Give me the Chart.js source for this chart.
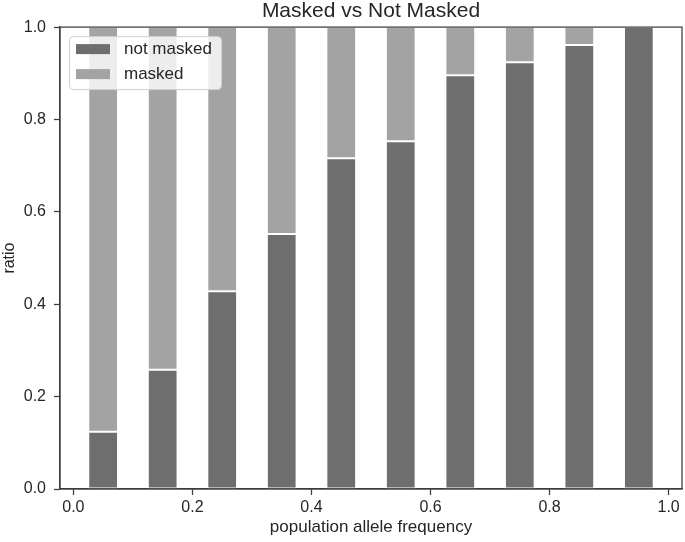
<!DOCTYPE html>
<html>
<head>
<meta charset="utf-8">
<script src="https://cdn.jsdelivr.net/npm/chart.js@4.4.1/dist/chart.umd.min.js"></script>
<style>
  html, body { margin: 0; padding: 0; background: #fff; }
  #wrap { width: 685px; height: 542px; }
</style>
</head>
<body>
<div id="wrap"><canvas id="grafica"></canvas></div>
<script>
// datos
const frecuencias = [0.05, 0.15, 0.25, 0.35, 0.45, 0.55, 0.65, 0.75, 0.85, 0.95];
const noEnmascarado = [0.124, 0.258, 0.428, 0.552, 0.716, 0.753, 0.896, 0.924, 0.961, 1.0];
const enmascarado = [0.876, 0.742, 0.572, 0.448, 0.284, 0.247, 0.104, 0.076, 0.039, 0.0];
const ticksX = [0.0, 0.2, 0.4, 0.6, 0.8, 1.0];
const ticksY = [0.0, 0.2, 0.4, 0.6, 0.8, 1.0];

const FUENTE = "'Liberation Sans', Arial, sans-serif";
const COLOR_TEXTO = "#262626";
const COLOR_EJE = "#3c3c3c";

// marco completo del area de la grafica
const marco = {
    id: "marco",
    afterDatasetsDraw(chart) {
        const { ctx, chartArea: a } = chart;
        ctx.save();
        ctx.strokeStyle = COLOR_EJE;
        ctx.lineWidth = 1.25;
        ctx.strokeRect(a.left, a.top, a.right - a.left, a.bottom - a.top);
        ctx.restore();
    }
};

// leyenda dentro del area, arriba a la izquierda
const leyenda = {
    id: "leyenda",
    afterDraw(chart) {
        const { ctx, chartArea: a } = chart;
        const x = a.left + 9, y = a.top + 9, w = 152, h = 53;
        ctx.save();
        ctx.beginPath();
        ctx.roundRect(x + 0.5, y + 0.5, w, h, 4);
        ctx.fillStyle = "rgba(255,255,255,0.8)";
        ctx.fill();
        ctx.strokeStyle = "#d0d0d0";
        ctx.lineWidth = 1;
        ctx.stroke();
        chart.data.datasets.forEach((ds, i) => {
            const fy = y + 8 + i * 25;
            ctx.fillStyle = ds.backgroundColor;
            ctx.fillRect(x + 7, fy, 34, 10);
            ctx.fillStyle = COLOR_TEXTO;
            ctx.font = "17px " + FUENTE;
            ctx.textBaseline = "middle";
            ctx.fillText(ds.label, x + 55, fy + 5.5);
        });
        ctx.restore();
    }
};

new Chart(document.getElementById("grafica"), {
    type: "bar",
    data: {
        datasets: [
            {
                label: "not masked",
                data: frecuencias.map((f, i) => ({ x: f, y: noEnmascarado[i] })),
                backgroundColor: "#6e6e6e",
                borderColor: "#ffffff",
                borderWidth: 1,
                borderSkipped: false
            },
            {
                label: "masked",
                data: frecuencias.map((f, i) => ({ x: f, y: enmascarado[i] })),
                backgroundColor: "#a3a3a3",
                borderColor: "#ffffff",
                borderWidth: 1,
                borderSkipped: false
            }
        ]
    },
    options: {
        responsive: true,
        maintainAspectRatio: false,
        animation: false,
        barPercentage: 0.5,
        categoryPercentage: 1.0,
        layout: { padding: { left: 0, right: 3, top: 0, bottom: 0 } },
        plugins: {
            legend: { display: false },
            tooltip: { enabled: false },
            title: {
                display: true,
                fullSize: false,
                text: "Masked vs Not Masked",
                color: COLOR_TEXTO,
                font: { family: FUENTE, size: 21, weight: "normal", lineHeight: 1.1 },
                padding: { top: 0, bottom: 4 }
            }
        },
        scales: {
            x: {
                type: "linear",
                stacked: true,
                offset: false,
                min: -0.0225,
                max: 1.0225,
                afterBuildTicks: (s) => { s.ticks = ticksX.map(v => ({ value: v })); },
                afterFit: (s) => { s.height = 53; },
                grid: { offset: false, drawOnChartArea: false, drawTicks: true, tickLength: 6, tickWidth: 1.25, color: COLOR_EJE },
                border: { display: true, color: COLOR_EJE, width: 1.25 },
                ticks: {
                    color: COLOR_TEXTO,
                    font: { family: FUENTE, size: 16, lineHeight: 1.1 },
                    padding: 4,
                    maxRotation: 0,
                    callback: (v) => Number(v).toFixed(1)
                },
                title: {
                    display: true,
                    text: "population allele frequency",
                    color: COLOR_TEXTO,
                    font: { family: FUENTE, size: 17, lineHeight: 1.1 },
                    padding: { top: 1, bottom: 5 }
                }
            },
            y: {
                stacked: true,
                min: 0,
                max: 1,
                afterBuildTicks: (s) => { s.ticks = ticksY.map(v => ({ value: v })); },
                afterFit: (s) => { s.width = 60; },
                grid: { drawOnChartArea: false, drawTicks: true, tickLength: 6, tickWidth: 1.25, color: COLOR_EJE },
                border: { display: true, color: COLOR_EJE, width: 1.25 },
                ticks: {
                    color: COLOR_TEXTO,
                    font: { family: FUENTE, size: 16 },
                    padding: 8,
                    callback: (v) => Number(v).toFixed(1)
                },
                title: {
                    display: true,
                    text: "ratio",
                    color: COLOR_TEXTO,
                    font: { family: FUENTE, size: 16 },
                    padding: { top: 0, bottom: 0 }
                }
            }
        }
    },
    plugins: [marco, leyenda]
});
</script>
</body>
</html>
